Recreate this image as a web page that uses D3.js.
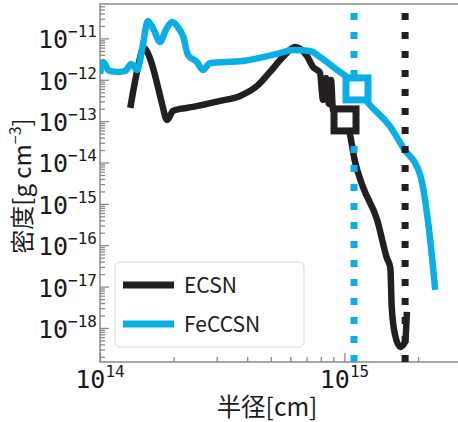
<!DOCTYPE html>
<html><head><meta charset="utf-8">
<script src="https://cdn.jsdelivr.net/npm/d3@7"></script>
<style>body{margin:0;background:#fff}svg{display:block}</style>
</head><body>
<script>
// ---- data ----
const seriesNames = ["ECSN", "FeCCSN"];
const ecsnRadius = [1.33e14,1.37e14,1.43e14,1.51e14,1.60e14,1.71e14,1.79e14,1.88e14,1.99e14,2.12e14,2.40e14,3.10e14,3.74e14,4.39e14,4.96e14,5.60e14,6.28e14,7.02e14,7.43e14,7.94e14,8.17e14,8.40e14,8.64e14,8.81e14,8.97e14,1.005e15,1.05e15,1.10e15,1.19e15,1.36e15,1.49e15,1.54e15,1.56e15,1.61e15,1.69e15,1.77e15,1.80e15];
const ecsnDensity = [2.09e-13,5.69e-13,2.05e-12,5.89e-12,3.37e-12,8.39e-13,2.75e-13,1.07e-13,1.77e-13,1.97e-13,2.21e-13,3.08e-13,4.07e-13,7.11e-13,1.55e-12,3.57e-12,6.22e-12,3.78e-12,2.05e-12,1.47e-12,3.26e-13,1.11e-12,2.61e-13,9.93e-13,1.87e-13,1.07e-13,5.19e-14,1.15e-14,2.57e-15,4.09e-16,4.93e-17,2.82e-17,3.22e-18,6.78e-19,3.47e-19,4.59e-19,2.44e-18];
const feccsnRadius = [1.00e14,1.03e14,1.09e14,1.19e14,1.27e14,1.34e14,1.42e14,1.49e14,1.57e14,1.66e14,1.76e14,1.86e14,1.97e14,2.08e14,2.19e14,2.29e14,2.49e14,2.64e14,2.82e14,3.85e14,5.30e14,6.16e14,7.23e14,7.94e14,9.32e14,1.02e15,1.13e15,1.25e15,1.54e15,1.74e15,2.04e15,2.20e15,2.35e15];
const feccsnDensity = [1.39e-12,2.70e-12,1.64e-12,1.55e-12,1.64e-12,2.42e-12,1.73e-12,5.89e-12,2.65e-11,1.61e-11,8.22e-12,1.61e-11,2.51e-11,1.90e-11,1.09e-11,3.99e-12,2.70e-12,1.73e-12,2.56e-12,2.86e-12,4.22e-12,5.27e-12,4.99e-12,3.57e-12,1.73e-12,1.17e-12,6.01e-13,2.75e-13,7.24e-14,2.25e-14,5.0e-15,3.46e-16,8.30e-18];
// vertical dotted reference radii
const vlineRadius = [1.77e15, 1.094e15];
// open square markers
const markerRadius = [1.005e15, 1.125e15];
const markerDensity = [1.07e-13, 6.01e-13];
const xTickExponents = [14, 15];
const yTickExponents = [-18,-17,-16,-15,-14,-13,-12,-11];
const xLabel = "半径[cm]";
const yLabelMain = "密度[g cm";
const yLabelSup = "−3";
const yLabelEnd = "]";

const colors = ["#231f20", "#0aaee6"];

const W = 458, H = 422;
const L = 100, T = 4, R = 459, B = 362;
const svg = d3.select("body").append("svg").attr("width", W).attr("height", H);

const x = d3.scaleLog().domain([1e14, 2.94e15]).range([L, R]);
const y = d3.scaleLog().domain([1.5e-19, 6.8e-11]).range([B, T]);

const tickFont = "'DejaVu Sans Mono', monospace";
const labelFont = "'Noto Sans CJK JP', sans-serif";
const axisColor = "#8a8a8a";

// frame
svg.append("rect").attr("x", L).attr("y", T).attr("width", R - L).attr("height", B - T)
  .attr("fill", "none").attr("stroke", axisColor).attr("stroke-width", 1.5);

// ticks
const xMinor = [];
for (let e = 14; e <= 15; e++) for (let m = 2; m <= 9; m++) { const v = m * Math.pow(10, e); if (v < 2.94e15) xMinor.push(v); }
const yMinor = [];
for (let e = -19; e <= -11; e++) for (let m = 2; m <= 9; m++) { const v = m * Math.pow(10, e); if (v > 1.5e-19 && v < 6.8e-11) yMinor.push(v); }
const xMajor = xTickExponents.map(e => Math.pow(10, e));
const yMajor = yTickExponents.map(e => Math.pow(10, e));

function styleAxis(g) {
  g.select(".domain").remove();
  g.selectAll(".tick line").attr("stroke", axisColor).attr("stroke-width", 1.3);
  g.selectAll(".tick text").remove();
}
svg.append("g").attr("transform", `translate(0,${B})`)
  .call(d3.axisBottom(x).tickValues(xMinor).tickSize(-5).tickFormat("")).call(styleAxis);
svg.append("g").attr("transform", `translate(0,${B})`)
  .call(d3.axisBottom(x).tickValues(xMajor).tickSize(-9).tickFormat("")).call(styleAxis);
svg.append("g").attr("transform", `translate(${L},0)`)
  .call(d3.axisLeft(y).tickValues(yMinor).tickSize(-5).tickFormat("")).call(styleAxis);
svg.append("g").attr("transform", `translate(${L},0)`)
  .call(d3.axisLeft(y).tickValues(yMajor).tickSize(-9).tickFormat("")).call(styleAxis);

// tick labels
xTickExponents.forEach(e => {
  const t = svg.append("text").attr("x", x(Math.pow(10, e))).attr("y", B + 26)
    .attr("text-anchor", "middle").attr("font-family", tickFont).attr("fill", "#1a1a1a");
  t.append("tspan").attr("font-size", 25).text("10");
  t.append("tspan").attr("font-size", 16).attr("dy", -11).text(String(e));
});
yTickExponents.forEach(e => {
  const t = svg.append("text").attr("x", 97).attr("y", y(Math.pow(10, e)) + 10)
    .attr("text-anchor", "end").attr("font-family", tickFont).attr("fill", "#1a1a1a");
  t.append("tspan").attr("font-size", 25).text("10");
  t.append("tspan").attr("font-size", 16).attr("dy", -11).text("−" + Math.abs(e));
});

// axis titles
svg.append("text").attr("x", 267).attr("y", 416).attr("text-anchor", "middle")
  .attr("font-family", labelFont).attr("font-size", 24.5).attr("fill", "#1a1a1a").text(xLabel);
const yl = svg.append("text").attr("transform", "translate(31,186) rotate(-90)").attr("text-anchor", "middle")
  .attr("font-family", labelFont).attr("font-size", 24).attr("fill", "#1a1a1a");
yl.append("tspan").text(yLabelMain);
yl.append("tspan").attr("font-size", 16).attr("dy", -10).text(yLabelSup);
yl.append("tspan").attr("dy", 10).text(yLabelEnd);

// clip
svg.append("clipPath").attr("id", "clip").append("rect").attr("x", L).attr("y", T).attr("width", R - L).attr("height", B - T);
const plot = svg.append("g").attr("clip-path", "url(#clip)");

const line = d3.line().x(d => x(d[0])).y(d => y(d[1])).curve(d3.curveMonotoneX);
const series = [
  d3.zip(ecsnRadius, ecsnDensity),
  d3.zip(feccsnRadius, feccsnDensity)
];
series.forEach((s, i) => {
  plot.append("path").datum(s).attr("d", line).attr("fill", "none")
    .attr("stroke", colors[i]).attr("stroke-width", 6.5).attr("stroke-linejoin", "round").attr("stroke-linecap", "butt");
});

// dotted vertical lines (drawn from bottom up)
vlineRadius.forEach((r, i) => {
  plot.append("line").attr("x1", x(r)).attr("x2", x(r)).attr("y1", B).attr("y2", T)
    .attr("stroke", colors[i]).attr("stroke-width", 7).attr("stroke-dasharray", "7 12");
});

// open squares
markerRadius.forEach((r, i) => {
  const s = 22;
  plot.append("rect").attr("x", x(r) - s / 2).attr("y", y(markerDensity[i]) - s / 2)
    .attr("width", s).attr("height", s).attr("fill", "#fff")
    .attr("stroke", colors[i]).attr("stroke-width", 7);
});

// legend
const lg = svg.append("g");
lg.append("rect").attr("x", 115).attr("y", 262).attr("width", 189).attr("height", 85).attr("rx", 5)
  .attr("fill", "#fff").attr("fill-opacity", 0.85).attr("stroke", "#d8d8d8").attr("stroke-width", 1);
seriesNames.forEach((n, i) => {
  const yy = 285 + i * 39;
  lg.append("line").attr("x1", 123).attr("x2", 174).attr("y1", yy).attr("y2", yy)
    .attr("stroke", colors[i]).attr("stroke-width", 7);
  lg.append("text").attr("x", 184).attr("y", yy + 8).attr("font-family", labelFont)
    .attr("font-size", 21).attr("fill", "#1a1a1a").text(n);
});
</script>
</body></html>
